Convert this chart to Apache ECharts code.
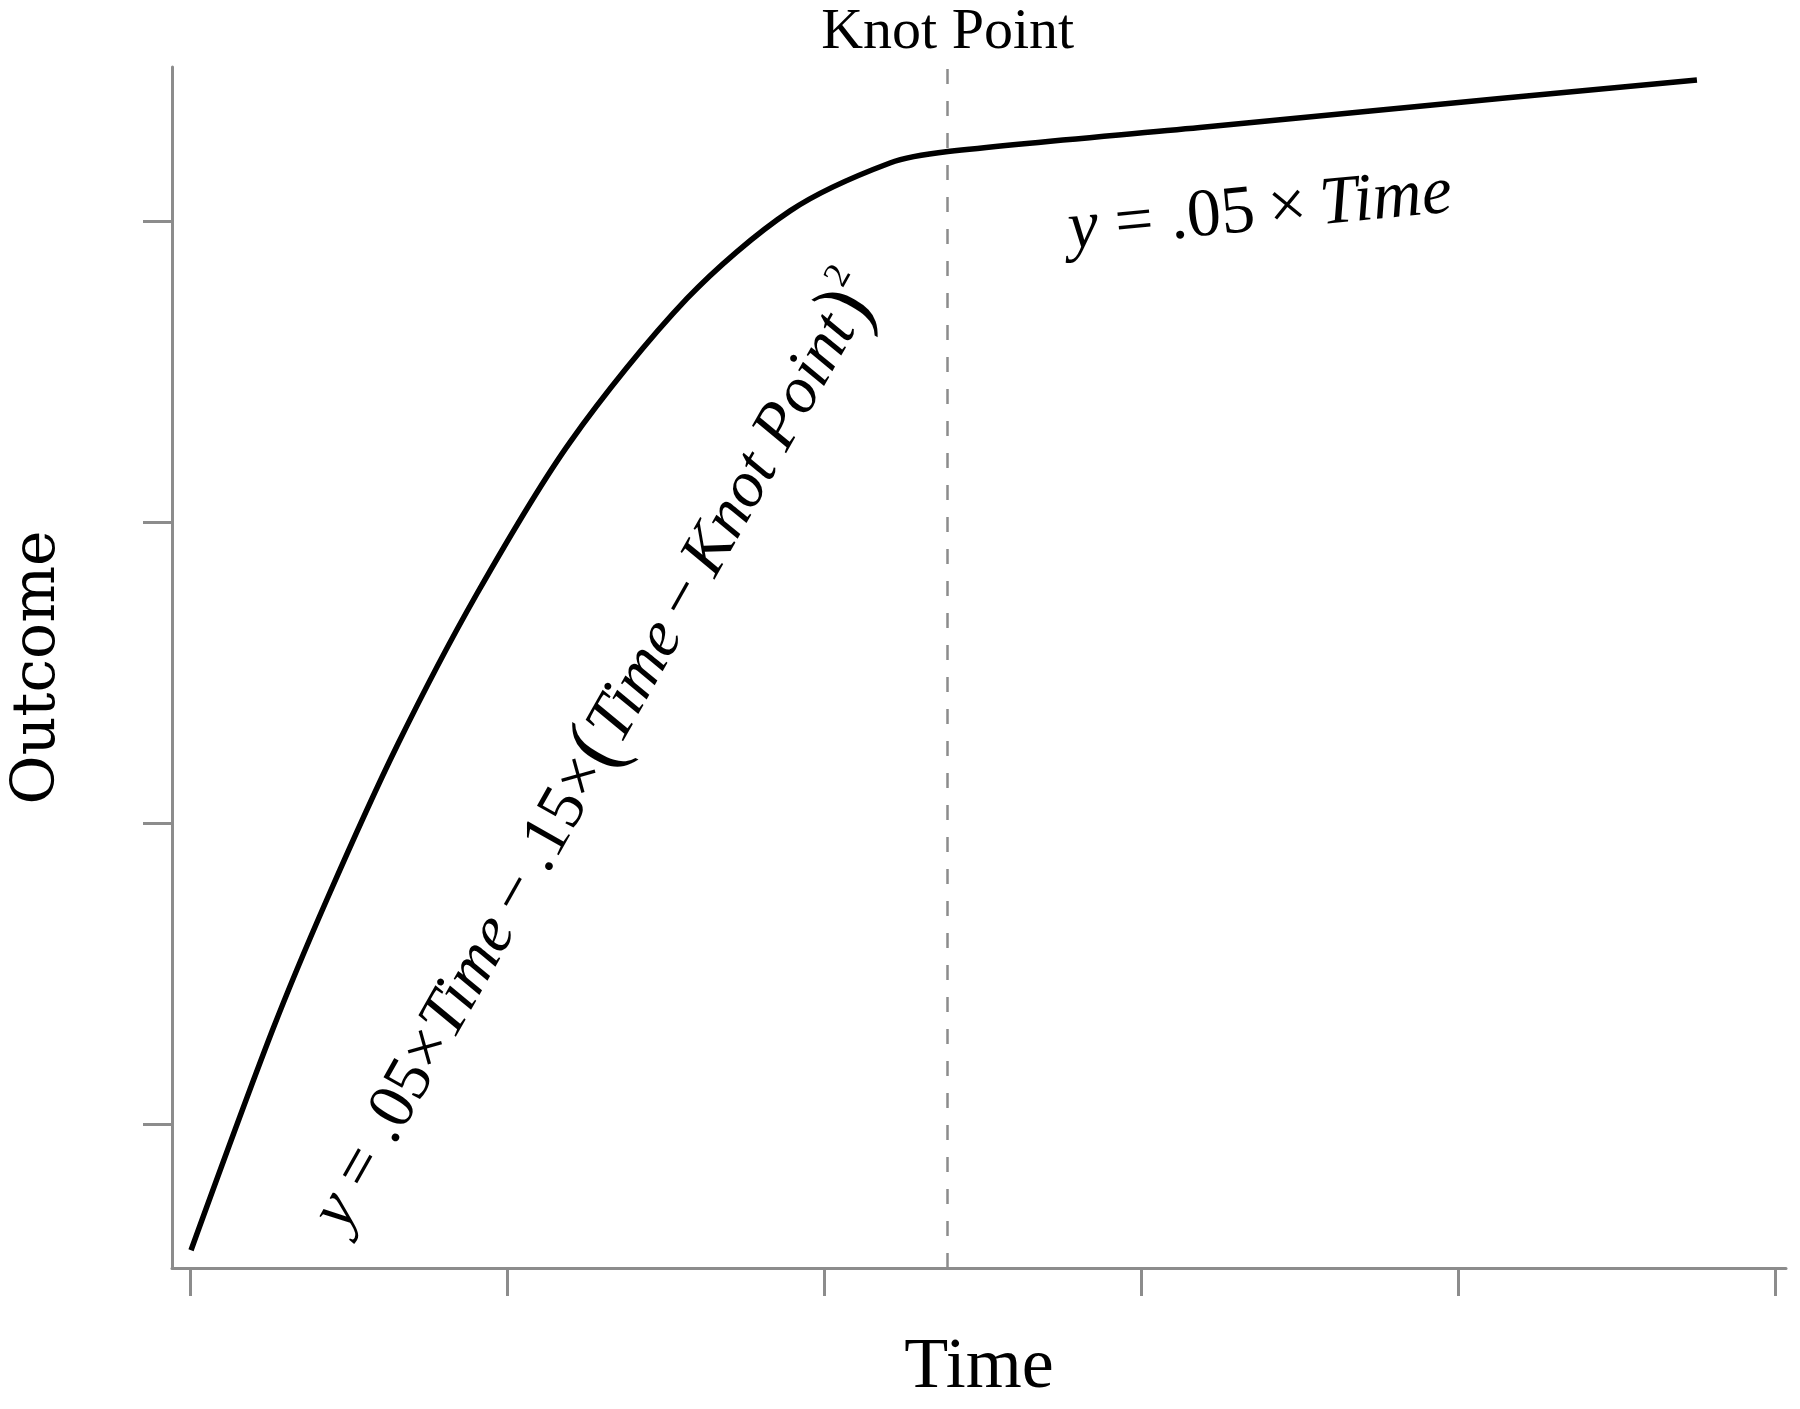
<!DOCTYPE html>
<html>
<head>
<meta charset="utf-8">
<script src="https://cdn.jsdelivr.net/npm/echarts@6/dist/echarts.min.js"></script>
<style>
  html, body { margin: 0; padding: 0; background: #fff; }
</style>
</head>
<body>
<div id="main" style="width: 1800px;height:1409px;"></div>
<script>
// values (Time, Outcome); ticks carry no labels
var timeValues = [0.003, 0.259, 0.432, 0.653, 0.905, 1.199, 1.568, 1.893, 2.208, 2.391, 3.186, 4.132, 4.754];
var outcomeValues = [0.582, 1.310, 1.748, 2.258, 2.763, 3.267, 3.744, 4.035, 4.194, 4.232, 4.312, 4.408, 4.470];
var knotTime = 2.391;
var timeTicks = [0, 1, 2, 3, 4, 5];
var outcomeTicks = [1, 2, 3, 4];

var serif = 'Liberation Serif';
var axisGrey = '#8c8c8c';

var lineData = timeValues.map(function (t, i) {
    return [t, outcomeValues[i]];
});

var myChart = echarts.init(document.getElementById('main'));
myChart.setOption({
    animation: false,
    grid: { left: 172, top: 67, right: 14, bottom: 138 },
    xAxis: {
        type: 'value',
        min: -0.057,
        max: 5.035,
        name: 'Time',
        nameLocation: 'middle',
        nameGap: 64,
        nameTextStyle: { fontFamily: serif, fontSize: 72, color: '#000' },
        axisLine: { onZero: false, lineStyle: { color: axisGrey, width: 3 } },
        axisTick: { show: true, length: 28, customValues: timeTicks, lineStyle: { color: axisGrey, width: 3 } },
        axisLabel: { show: false },
        splitLine: { show: false }
    },
    yAxis: {
        type: 'value',
        min: 0.523,
        max: 4.513,
        name: 'Outcome',
        nameLocation: 'middle',
        nameGap: 104,
        nameTextStyle: { fontFamily: 'DejaVu Serif', fontSize: 60, color: '#000' },
        axisLine: { show: true, onZero: false, lineStyle: { color: axisGrey, width: 3 } },
        axisTick: { show: true, length: 29, customValues: outcomeTicks, lineStyle: { color: axisGrey, width: 3 } },
        axisLabel: { show: false },
        splitLine: { show: false }
    },
    series: [
        {
            type: 'line',
            data: lineData,
            smooth: 0.3,
            showSymbol: false,
            lineStyle: { color: '#000', width: 5.5 },
            markLine: {
                silent: true,
                symbol: ['none', 'none'],
                lineStyle: { color: axisGrey, width: 2.5, type: [15, 17] },
                label: {
                    show: true,
                    position: 'end',
                    formatter: 'Knot Point',
                    distance: 5,
                    fontFamily: serif,
                    fontSize: 58,
                    color: '#000'
                },
                data: [{ xAxis: knotTime }]
            }
        }
    ],
    graphic: [
        {
            type: 'text',
            x: 1260,
            y: 212,
            rotation: 5.5 * Math.PI / 180,
            style: {
                text: '{i|y} = .05\u2009×\u2009{i|Time}',
                rich: {
                    i: { fontStyle: 'italic', fontFamily: serif, fontSize: 68, fill: '#000' }
                },
                fontFamily: serif,
                fontSize: 68,
                fill: '#000',
                align: 'center',
                verticalAlign: 'middle'
            }
        },
        {
            type: 'text',
            x: 597,
            y: 752,
            rotation: 60.5 * Math.PI / 180,
            style: {
                text: '{i|y} = .05×{i|Time}\u2009−\u2009.15×{p|(}{i|Time}\u2009−\u2009{i|Knot Point}{p|)}{s|2}',
                rich: {
                    i: { fontStyle: 'italic', fontFamily: serif, fontSize: 66, fill: '#000' },
                    p: { fontFamily: serif, fontSize: 84, fill: '#000' },
                    s: { fontFamily: serif, fontSize: 36, fill: '#000', verticalAlign: 'top' }
                },
                fontFamily: serif,
                fontSize: 66,
                fill: '#000',
                align: 'center',
                verticalAlign: 'middle'
            }
        }
    ]
});
</script>
</body>
</html>
